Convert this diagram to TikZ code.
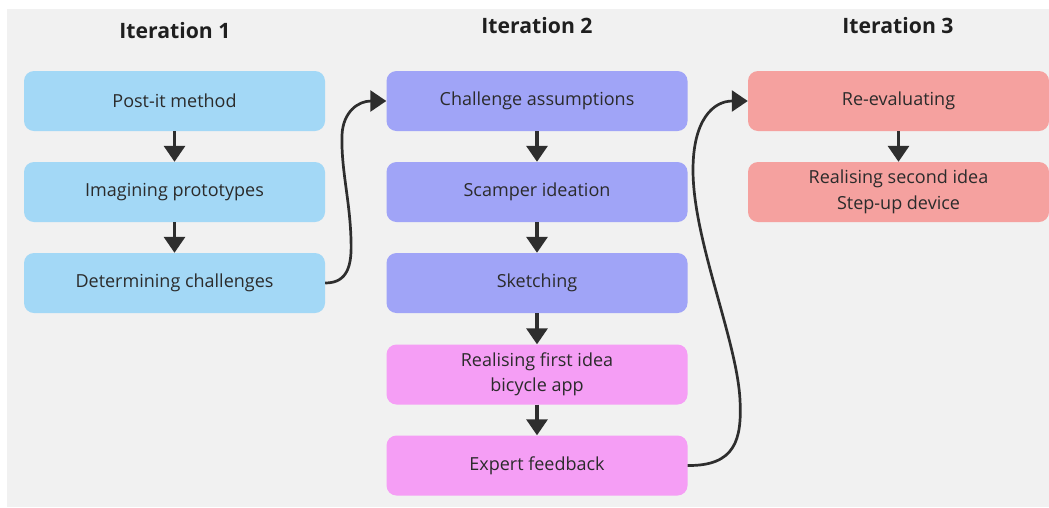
\documentclass[tikz,border=0pt]{standalone}
\usepackage{fontspec}
\setmainfont{Open Sans}
\usetikzlibrary{arrows.meta}
\definecolor{bg}{HTML}{F1F1F1}
\definecolor{cblue}{HTML}{A3D8F6}
\definecolor{cpurple}{HTML}{A0A4F7}
\definecolor{cpink}{HTML}{F59EF5}
\definecolor{cred}{HTML}{F5A19F}
\definecolor{txt}{HTML}{2B2B2B}
\definecolor{arr}{HTML}{2E2E2E}
\tikzset{
  box/.style={rounded corners=10pt, minimum width=301pt, minimum height=60pt, inner sep=0pt,
    align=center, text=txt, font=\fontsize{18}{25.5}\selectfont},
  title/.style={font=\fontsize{21.2}{25}\selectfont\bfseries, text=black!88},
  flow/.style={draw=arr, line width=3.3pt, -{Triangle[width=21pt,length=16pt]}},
  link/.style={draw=arr, line width=2.7pt, -{Triangle[width=21pt,length=16pt]}}
}
\begin{document}
\begin{tikzpicture}[x=1pt,y=-1pt]
\useasboundingbox (0,0) rectangle (1049,507);
\fill[white] (0,0) rectangle (1049,507);
\fill[bg] (7,9) rectangle (1049,507);
% titles
\node[title] (t1) at (175,31) {Iteration 1};
\node[title] (t2) at (537,26) {Iteration 2};
\node[title] (t3) at (898,26) {Iteration 3};
% column 1
\node[box, fill=cblue] (a1) at (174.5,101) {Post-it method};
\node[box, fill=cblue] (a2) at (174.5,192) {Imagining prototypes};
\node[box, fill=cblue] (a3) at (174.5,283) {Determining challenges};
% column 2
\node[box, fill=cpurple] (b1) at (537,101) {Challenge assumptions};
\node[box, fill=cpurple] (b2) at (537,192) {Scamper ideation};
\node[box, fill=cpurple] (b3) at (537,283) {Sketching};
\node[box, fill=cpink] (b4) at (537,374.5) {Realising first idea\\bicycle app};
\node[box, fill=cpink] (b5) at (537,465.5) {Expert feedback};
% column 3
\node[box, fill=cred] (c1) at (898.5,101) {Re-evaluating};
\node[box, fill=cred] (c2) at (898.5,192) {Realising second idea\\Step-up device};
% vertical arrows
\draw[flow] (a1) -- (a2);
\draw[flow] (a2) -- (a3);
\draw[flow] (b1) -- (b2);
\draw[flow] (b2) -- (b3);
\draw[flow] (b3) -- (b4);
\draw[flow] (b4) -- (b5);
\draw[flow] (c1) -- (c2);
% curved connectors
\draw[link] (a3.east) .. controls (348,283) and (352,265) .. (351,240)
  .. controls (350,200) and (341,170) .. (342,135)
  .. controls (343,112) and (358,101) .. (b1.west);
\draw[link] (b5.east) .. controls (735,466) and (742,440) .. (740,400)
  .. controls (737,340) and (693,240) .. (693,170)
  .. controls (693,120) and (713,101) .. (c1.west);
\end{tikzpicture}
\end{document}
